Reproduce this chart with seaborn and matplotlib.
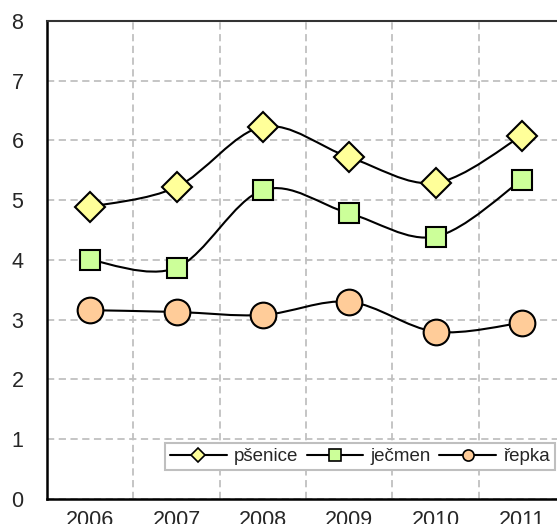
import numpy as np
import pandas as pd
import matplotlib
matplotlib.use("Agg")
import matplotlib.pyplot as plt
import seaborn as sns
from matplotlib.path import Path
from matplotlib.patches import PathPatch
from matplotlib.lines import Line2D

# data
years = ["2006", "2007", "2008", "2009", "2010", "2011"]
psenice = [4.89, 5.22, 6.23, 5.72, 5.29, 6.08]
jecmen = [4.00, 3.87, 5.17, 4.78, 4.39, 5.34]
repka = [3.16, 3.13, 3.08, 3.30, 2.80, 2.95]
series_names = ["pšenice", "ječmen", "řepka"]

sns.set_style("white")
plt.rcParams["font.family"] = ["Liberation Sans", "DejaVu Sans"]

df = pd.DataFrame({
    "rok": np.tile(np.arange(len(years)), 3),
    "hodnota": psenice + jecmen + repka,
    "plodina": np.repeat(series_names, len(years)),
})

fig = plt.figure(figsize=(5.57, 5.24), dpi=100)
ax = fig.add_axes([0.0844, 0.0477, 0.93, 0.9123])

styles = {
    "pšenice": dict(marker="D", color="#FFFF99", size=15),
    "ječmen": dict(marker="s", color="#CCFF99", size=15),
    "řepka": dict(marker="o", color="#FFCC99", size=18.5),
}


def smooth_path(xs, ys):
    # Excel-like smoothed line: cubic Bezier segments (Catmull-Rom control points)
    pts = np.column_stack([xs, ys]).astype(float)
    n = len(pts)
    verts = [pts[0]]
    codes = [Path.MOVETO]
    for i in range(n - 1):
        p0 = pts[i - 1] if i > 0 else pts[i]
        p1 = pts[i]
        p2 = pts[i + 1]
        p3 = pts[i + 2] if i + 2 < n else pts[i + 1]
        c1 = p1 + (p2 - p0) / 6.0
        c2 = p2 - (p3 - p1) / 6.0
        verts += [c1, c2, p2]
        codes += [Path.CURVE4] * 3
    return Path(verts, codes)


handles = []
for name in series_names:
    sub = df[df["plodina"] == name]
    path = smooth_path(sub["rok"].values, sub["hodnota"].values)
    ax.add_patch(PathPatch(path, facecolor="none", edgecolor="black", lw=1.5, zorder=3))
    st = styles[name]
    sns.lineplot(data=sub, x="rok", y="hodnota", ax=ax, linestyle="", marker=st["marker"],
                 markersize=st["size"], markerfacecolor=st["color"], markeredgecolor="black",
                 markeredgewidth=1.5, zorder=4, legend=False)
    handles.append(Line2D([], [], color="black", lw=1.5, marker=st["marker"],
                          markersize=8 if st["marker"] != "D" else 7,
                          markerfacecolor=st["color"], markeredgecolor="black",
                          markeredgewidth=1.2, label=name))

ax.set_xlim(-0.5, len(years) - 0.5)
ax.set_ylim(0, 8)
ax.set_yticks(range(0, 9))
ax.set_xticks(np.arange(-0.5, len(years), 1.0))
ax.set_xticklabels([])
ax.set_xticks(np.arange(len(years)), minor=True)
ax.set_xticklabels(years, minor=True)
ax.tick_params(axis="x", which="major", direction="out", length=6, width=1.5, color="black")
ax.tick_params(axis="x", which="minor", length=0, pad=8, labelsize=15.5)
ax.tick_params(axis="y", direction="out", length=5, width=1.5, color="black", labelsize=15.5, pad=12)
ax.set_xlabel("")
ax.set_ylabel("")

ax.grid(True, which="major", color="#C0C0C0", linestyle=(0, (4, 2.5)), lw=1.3)
ax.set_axisbelow(True)

for side in ["left", "bottom"]:
    ax.spines[side].set_color("black")
    ax.spines[side].set_linewidth(1.8)
ax.spines["top"].set_color("#333333")
ax.spines["top"].set_linewidth(1.5)
ax.spines["right"].set_visible(False)

leg = ax.legend(handles=handles, ncol=3, loc="lower right", bbox_to_anchor=(0.981, 0.0598),
                frameon=True, fancybox=False, fontsize=13.5, handlelength=3.0,
                columnspacing=0.45, handletextpad=0.4, borderpad=0.28, borderaxespad=0)
leg.get_frame().set_edgecolor("#BFBFBF")
leg.get_frame().set_linewidth(1.5)
leg.get_frame().set_facecolor("white")
leg.get_frame().set_alpha(1)

fig.savefig("out.png", dpi=100)
